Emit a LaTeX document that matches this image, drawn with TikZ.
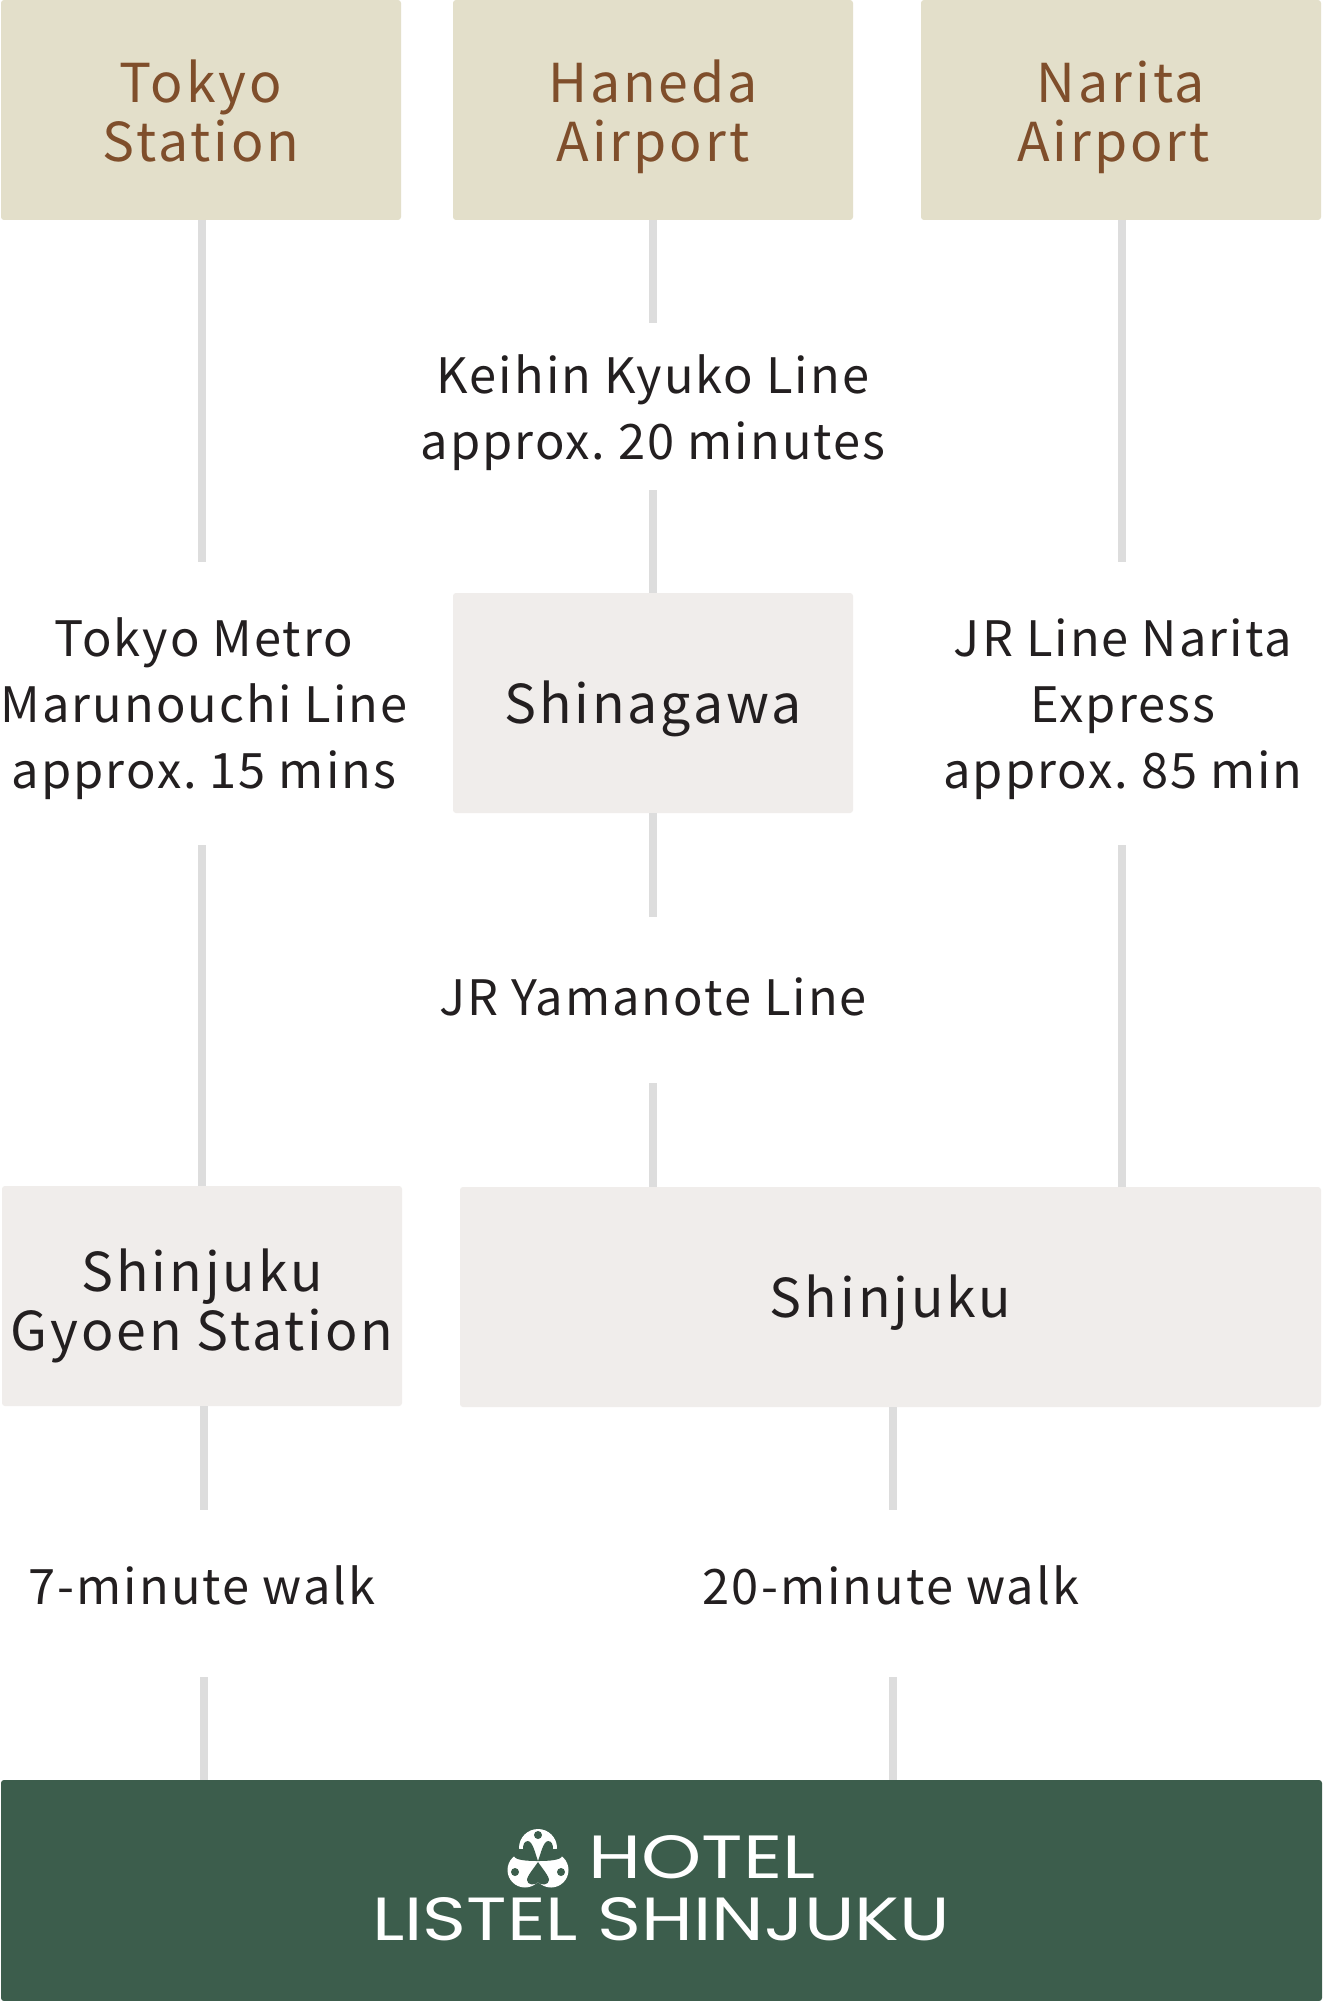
\documentclass[tikz,border=0pt]{standalone}
\usepackage{fontspec}
\setmainfont{Noto Sans CJK JP}
\newfontfamily\logofont{Poppins}
\definecolor{tan}{HTML}{E3DFCA}
\definecolor{brownt}{HTML}{7F4E2B}
\definecolor{greyb}{HTML}{F0EDEB}
\definecolor{linec}{HTML}{DDDDDD}
\definecolor{inkc}{HTML}{231F20}
\definecolor{hotelg}{HTML}{3C5D4C}
\newcommand\bs[1]{\rule[-2.5pt]{0pt}{25pt}\smash{#1}}
\newcommand\bsf[2]{\rule[-2.5pt]{0pt}{#1}\smash{#2}}
\newcommand\lbl[1]{\rule{0pt}{18pt}\smash{#1}}
\frenchspacing
\tikzset{
  x=0.5pt,y=-0.5pt,
  conn/.style={draw=linec,line width=4pt},
  boxbase/.style={rectangle,rounded corners=1.5pt,inner sep=0,outer sep=0,align=center,anchor=north west},
  tanbox/.style={boxbase,fill=tan,text=brownt,minimum width=200pt,minimum height=110pt,font=\fontsize{26.8}{29.5}\selectfont\addfontfeature{LetterSpace=5.5}},
  greybox/.style={boxbase,fill=greyb,text=inkc,minimum height=110pt,font=\fontsize{26.8}{29.5}\selectfont\addfontfeature{LetterSpace=5.5}},
  lab/.style={inner sep=0,outer sep=0,align=center,text=inkc,font=\fontsize{24.4}{33}\selectfont\addfontfeature{LetterSpace=4.2}},
  logotext/.style={inner sep=0,outer sep=0,text=white,font=\logofont}
}
\begin{document}
\begin{tikzpicture}
\useasboundingbox (0,0) rectangle (1322,2001);
\fill[white] (0,0) rectangle (1322,2001);
% boxes
\node[tanbox] (tokyo) at (1,0) {\bsf{27.5pt}{Tokyo}\\\bs{Station}};
\node[tanbox] (haneda) at (453,0) {\bsf{27.5pt}{Haneda}\\\bs{Airport}};
\node[tanbox] (narita) at (921,0) {\bsf{27.5pt}{Narita}\\\bs{Airport}\hspace*{7.5pt}};
\node[greybox,minimum width=200pt] (shinagawa) at (453,593) {\bs{Shinagawa}};
\node[greybox,minimum width=200pt] (gyoen) at (2,1186) {\bsf{29.5pt}{Shinjuku}\\\bs{Gyoen Station}};
\node[greybox,minimum width=430.5pt] (shinjuku) at (460,1187) {\bs{Shinjuku}};
\node[boxbase,fill=hotelg,minimum width=660.5pt,minimum height=110.5pt] (hotel) at (1,1780) {};
% labels
\node[lab] (keihin) at (653,408.5) {\lbl{Keihin Kyuko Line}\\\lbl{approx. 20 minutes}};
\node[lab] (metro) at (204,704.5) {\lbl{Tokyo Metro}\\\lbl{Marunouchi Line}\\\lbl{approx. 15 mins}};
\node[lab] (jrn) at (1123,704.5) {\lbl{JR Line Narita}\\\lbl{Express}\\\lbl{approx. 85 min}};
\node[lab] (yama) at (653,997) {\lbl{JR Yamanote Line}};
\node[lab] (w7) at (202,1586) {\lbl{7-minute walk}};
\node[lab] (w20) at (891,1586) {\lbl{20-minute walk}};
% connectors
\coordinate (a1) at (202,562); \coordinate (a2) at (202,845);
\draw[conn] (tokyo.south -| a1) -- (a1);
\draw[conn] (a2) -- (gyoen.north -| a2);
\coordinate (b1) at (653,323); \coordinate (b2) at (653,490);
\draw[conn] (haneda.south -| b1) -- (b1);
\draw[conn] (b2) -- (shinagawa.north -| b2);
\coordinate (b3) at (653,917); \coordinate (b4) at (653,1083);
\draw[conn] (shinagawa.south -| b3) -- (b3);
\draw[conn] (b4) -- (shinjuku.north -| b4);
\coordinate (c1) at (1122,562); \coordinate (c2) at (1122,845);
\draw[conn] (narita.south -| c1) -- (c1);
\draw[conn] (c2) -- (shinjuku.north -| c2);
\coordinate (d1) at (204,1510); \coordinate (d2) at (204,1677);
\draw[conn] (gyoen.south -| d1) -- (d1);
\draw[conn] (d2) -- (hotel.north -| d2);
\coordinate (e1) at (893,1510); \coordinate (e2) at (893,1677);
\draw[conn] (shinjuku.south -| e1) -- (e1);
\draw[conn] (e2) -- (hotel.north -| e2);
% logo text
\node[logotext] (hoteltext) at (702,1857.5) {\resizebox{113.5pt}{21.5pt}{HOTEL}};
\node[logotext] (listel) at (661,1919.5) {\resizebox{289pt}{21.5pt}{LISTEL SHINJUKU}};
% emblem
\begin{scope}[shift={(538,1861)}]
\fill[white] (0,-13) circle[radius=19];
\fill[white] (-13,9) circle[radius=17.5];
\fill[white] (13,9) circle[radius=17.5];
\fill[hotelg] (0,0) .. controls (-3,-8) and (-5,-19) .. (-10,-20) .. controls (-14,-20) and (-15,-16) .. (-15,-12) .. controls (-20,-13) and (-25,-10) .. (-24,-5) .. controls (-23,-1) and (-12,0) .. (0,0) -- cycle;
\fill[hotelg] (0,0) .. controls (3,-8) and (5,-19) .. (10,-20) .. controls (14,-20) and (15,-16) .. (15,-12) .. controls (20,-13) and (25,-10) .. (24,-5) .. controls (23,-1) and (12,0) .. (0,0) -- cycle;
\fill[hotelg] (0,1) .. controls (-4,7) and (-11,15) .. (-11,19) .. controls (-11,24) and (-3,25) .. (0,21) .. controls (3,25) and (11,24) .. (11,19) .. controls (11,15) and (4,7) .. (0,1) -- cycle;
\fill[hotelg] (0,-26) circle[radius=4];
\fill[hotelg] (-23,11) circle[radius=4];
\fill[hotelg] (23,11) circle[radius=4];
\end{scope}
\end{tikzpicture}
\end{document}
